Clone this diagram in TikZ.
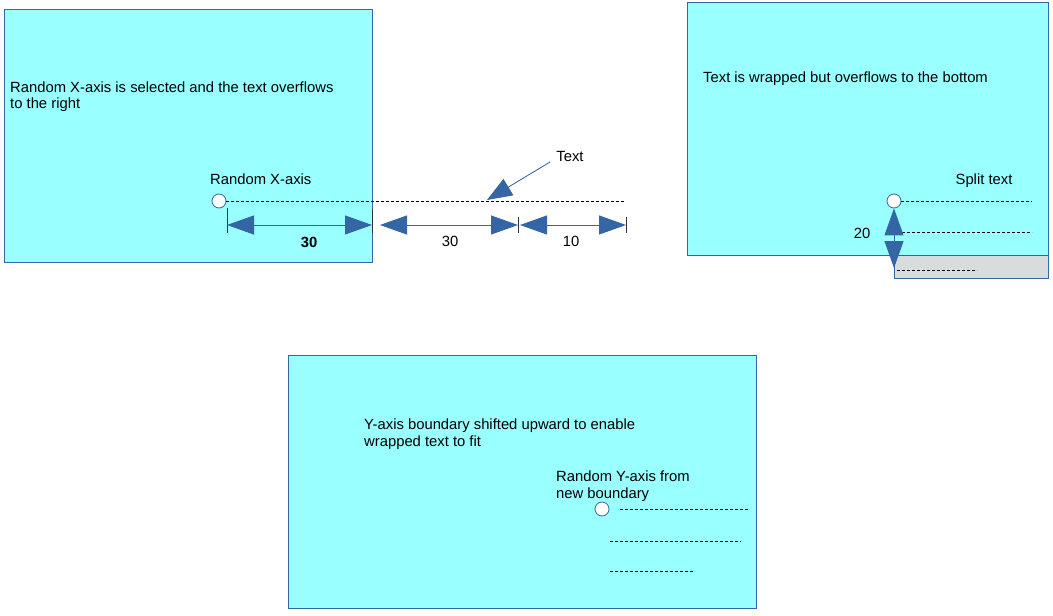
\documentclass[tikz,border=0pt]{standalone}
\usepackage{fontspec}
\setmainfont{Liberation Sans}
\usetikzlibrary{arrows.meta}
\definecolor{cyanbx}{HTML}{99FFFF}
\definecolor{edge}{HTML}{3465A4}
\definecolor{arrfill}{HTML}{3B6697}
\definecolor{grayfill}{HTML}{D9DCDC}
\tikzstyle{bx}=[draw=edge,fill=cyanbx,line width=1pt]
\tikzstyle{lbl}=[anchor=west,inner sep=0pt,yshift=-1.5pt,font=\fontsize{14.8}{16.5}\selectfont,align=left]
\tikzstyle{pt}=[circle,draw=edge,fill=white,line width=.8pt,minimum size=14pt,inner sep=0pt]
\tikzstyle{dl}=[dash pattern=on 3pt off 2pt,line width=.8pt]
\tikzstyle{dim}=[draw=edge,fill=arrfill,line width=1pt,{Triangle[length=27pt,width=19pt]}-{Triangle[length=27pt,width=19pt]}]
\tikzstyle{tk}=[line width=1pt,black!80]

\begin{document}
\begin{tikzpicture}[x=1pt,y=-1pt]
\useasboundingbox (0,0) rectangle (1053,616);
% boxes
\draw[bx] (4,9) rectangle (372,262);
\draw[bx] (687,2) rectangle (1048,255);
\draw[bx,fill=grayfill] (894,255) rectangle (1048,278);
\draw[bx] (288,355) rectangle (756,608);
% left: x-axis overflow
\node[lbl] (ovr) at (10,95) {Random X-axis is selected and the text overflows\\to the right};
\node[lbl] (rxa) at (210,178) {Random X-axis};
\node[pt] (ptx) at (219,201) {};
\coordinate (ex) at (626,201);
\draw[dl] (ptx) -- (ex);
\node[lbl,anchor=center] (txt) at (570,155) {Text};
\coordinate (tp) at (487,200);
\draw[draw=edge,fill=arrfill,line width=.8pt,-{Triangle[length=25pt,width=19pt]}] (txt.south west) ++(-6,0) -- (tp);
\coordinate (d0) at (227,225); \coordinate (d1) at (372,225); \coordinate (d2) at (380,225);
\coordinate (d3) at (518,225); \coordinate (d4) at (520,225); \coordinate (d5) at (626,225);
\draw[tk] (227,208) -- (227,233); \draw[tk] (372,209) -- (372,233);
\draw[tk] (518,217) -- (518,233); \draw[tk] (626,217) -- (626,233);
\draw[dim] (d0) -- (d1);
\draw[dim] (d2) -- (d3);
\draw[dim] (d4) -- (d5);
\node[lbl,anchor=center] (w1) at (309,241) {\textbf{30}};
\node[lbl,anchor=center] (w2) at (450,240) {30};
\node[lbl,anchor=center] (w3) at (571,240) {10};
% right: bottom overflow
\node[lbl] (wrp) at (703,77) {Text is wrapped but overflows to the bottom};
\node[lbl,anchor=center] (spl) at (984,179) {Split text};
\node[pt] (pts) at (894,201) {};
\coordinate (s1) at (1032,201);
\draw[dl] (pts) -- (s1);
\draw[dl] (902,232) -- (1032,232);
\draw[dl] (897,270) -- (977,270);
\coordinate (vb) at (894,268);
\draw[dim] (pts.south) -- (vb);
\node[lbl,anchor=center] (h20) at (862,232) {20};
% bottom: shifted boundary
\node[lbl] (shf) at (364,432.5) {Y-axis boundary shifted upward to enable\\wrapped text to fit};
\node[lbl] (rya) at (556,484.5) {Random Y-axis from\\new boundary};
\node[pt] (pty) at (602,509) {};
\draw[dl] (620,509) -- (748,509);
\draw[dl] (610,541) -- (741,541);
\draw[dl] (610,571) -- (694,571);
\end{tikzpicture}
\end{document}
